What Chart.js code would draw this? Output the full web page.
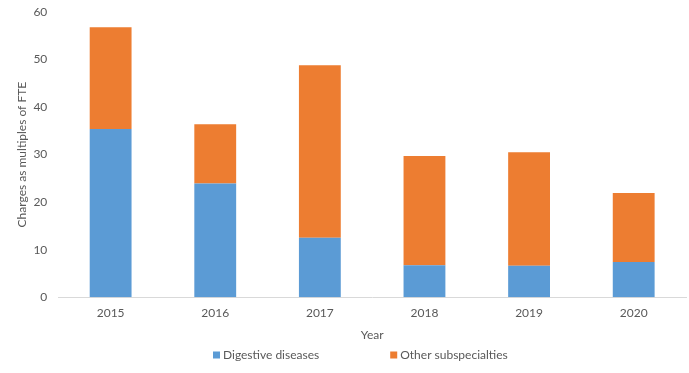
<!DOCTYPE html>
<html>
<head>
<meta charset="utf-8">
<script src="https://cdn.jsdelivr.net/npm/chart.js@4/dist/chart.umd.min.js"></script>
<style>
  html, body { margin: 0; padding: 0; background: #fff; }
  #wrap { width: 689px; height: 373px; }
</style>
</head>
<body>
<div id="wrap"><canvas id="chargesChart" width="689" height="373"></canvas></div>
<script>
const years = ['2015', '2016', '2017', '2018', '2019', '2020'];
const digestive = [35.4, 23.9, 12.5, 6.7, 6.6, 7.4];
const otherSub = [21.4, 12.5, 36.3, 23.0, 23.9, 14.5];
const yTicks = [0, 10, 20, 30, 40, 50, 60];

document.addEventListener('DOMContentLoaded', function () {
    const textColor = '#595959';
    const fontFamily = 'Lato, "Liberation Sans", Arial, sans-serif';
    const fontSize = 12;

    // legend drawn by hand so the wide gap between the two items
    // doesn't also blow up the legend height
    const bottomLegend = {
        id: 'bottomLegend',
        afterDraw(chart) {
            const c = chart.ctx;
            const y = 355;
            const gap = 71;
            let x = 213;
            c.save();
            c.font = fontSize + 'px ' + fontFamily;
            c.textBaseline = 'middle';
            chart.data.datasets.forEach(ds => {
                c.fillStyle = ds.backgroundColor;
                c.fillRect(x, y - 3.5, 7, 7);
                c.fillStyle = textColor;
                c.fillText(ds.label, x + 10, y);
                x += 10 + c.measureText(ds.label).width + gap;
            });
            c.restore();
        }
    };

    const ctx = document.getElementById('chargesChart');
    new Chart(ctx, {
        type: 'bar',
        data: {
            labels: years,
            datasets: [
                {
                    label: 'Digestive diseases',
                    data: digestive,
                    backgroundColor: '#5B9BD5'
                },
                {
                    label: 'Other subspecialties',
                    data: otherSub,
                    backgroundColor: '#ED7D31'
                }
            ]
        },
        options: {
            responsive: false,
            animation: false,
            layout: {
                padding: { top: 12, right: 3, left: 15, bottom: 31 }
            },
            datasets: {
                bar: {
                    barPercentage: 1,
                    categoryPercentage: 0.4
                }
            },
            scales: {
                x: {
                    stacked: true,
                    grid: { display: false, tickLength: 7 },
                    border: { color: '#d9d9d9', width: 1 },
                    ticks: {
                        padding: 2,
                        color: textColor,
                        font: { family: fontFamily, size: fontSize }
                    },
                    title: {
                        display: true,
                        text: 'Year',
                        color: textColor,
                        font: { family: fontFamily, size: fontSize },
                        padding: { top: 5, bottom: 0 }
                    }
                },
                y: {
                    stacked: true,
                    min: yTicks[0],
                    max: yTicks[yTicks.length - 1],
                    grid: { display: false, tickLength: 7 },
                    border: { display: false },
                    ticks: {
                        stepSize: 10,
                        padding: 4,
                        color: textColor,
                        font: { family: fontFamily, size: fontSize }
                    },
                    title: {
                        display: true,
                        text: 'Charges as multiples of FTE',
                        color: textColor,
                        font: { family: fontFamily, size: fontSize },
                        padding: { top: 0, bottom: 0 }
                    }
                }
            },
            plugins: {
                legend: { display: false },
                tooltip: { enabled: false }
            }
        },
        plugins: [bottomLegend]
    });
});
</script>
</body>
</html>
